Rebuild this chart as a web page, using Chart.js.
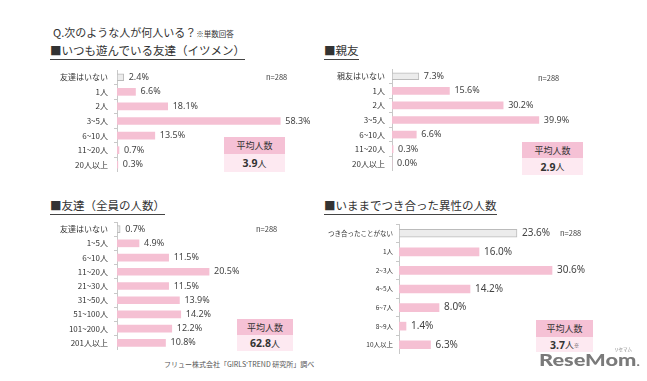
<!DOCTYPE html>
<html><head><meta charset="utf-8">
<script src="https://cdn.jsdelivr.net/npm/chart.js@4/dist/chart.umd.min.js"></script>
<style>
body{margin:0;background:#fff;}
#wrap{position:relative;width:647px;height:381px;overflow:hidden;font-family:"Noto Sans CJK JP","Noto Sans",sans-serif;color:#333;}
.t{position:absolute;white-space:nowrap;line-height:1;}
canvas{position:absolute;}
.ttl{font-size:11.5px;border-bottom:1px solid #444;padding-bottom:2px;}
.n{font-size:7.5px;color:#444;}
.avg{position:absolute;text-align:center;}
.avg .h{background:#f5c1d5;font-size:9px;display:flex;align-items:center;justify-content:center;}
.avg .v{background:#fde9f1;font-size:9px;display:flex;align-items:center;justify-content:center;}
.avg .v b{font-size:10.5px;font-family:"Noto Sans","Noto Sans CJK JP",sans-serif;}
</style></head><body>
<div id="wrap">
<div class="t" style="left:53px;top:27px;font-size:11px;">Q.次のような人が何人いる？<span style="font-size:7.5px">※単数回答</span></div>
<div class="t ttl" style="left:50px;top:45px;">■いつも遊んでいる友達（イツメン）</div>
<div class="t ttl" style="left:324px;top:45px;">■親友</div>
<div class="t ttl" style="left:50px;top:200px;">■友達（全員の人数）</div>
<div class="t ttl" style="left:324px;top:200px;">■いままでつき合った異性の人数</div>

<canvas id="c1" width="280" height="102" style="left:40px;top:70px"></canvas>
<canvas id="c2" width="300" height="102" style="left:320px;top:69px"></canvas>
<canvas id="c3" width="240" height="128" style="left:40px;top:222px"></canvas>
<canvas id="c4" width="300" height="130" style="left:320px;top:224px"></canvas>

<div class="t n" style="left:266px;top:73px;">n=288</div>
<div class="t n" style="left:538px;top:74px;">n=288</div>
<div class="t n" style="left:256px;top:225px;">n=288</div>
<div class="t n" style="left:560px;top:229px;">n=288</div>

<div class="avg" style="left:224px;top:137px;width:61px;"><div class="h" style="height:17px">平均人数</div><div class="v" style="height:18px"><b>3.9</b>人</div></div>
<div class="avg" style="left:522px;top:142px;width:61px;"><div class="h" style="height:16px">平均人数</div><div class="v" style="height:17px"><b>2.9</b>人</div></div>
<div class="avg" style="left:237px;top:319px;width:56px;"><div class="h" style="height:16px">平均人数</div><div class="v" style="height:16px"><b>62.8</b>人</div></div>
<div class="avg" style="left:536px;top:320px;width:57px;"><div class="h" style="height:17px">平均人数</div><div class="v" style="height:15px"><b>3.7</b>人<span style="font-size:5px;vertical-align:top">※</span></div></div>

<div class="t" style="left:164px;top:361px;font-size:7px;color:#555;">フリュー株式会社「GIRLS'TREND 研究所」調べ</div>
<div class="t" style="left:539px;top:351px;font-size:17px;font-weight:900;color:#7a7a7a;font-family:Lato,'Noto Sans',sans-serif;transform:scaleX(1.28);transform-origin:left top;">ReseMom<span style="font-size:11px">.</span></div>
<div class="t" style="left:614px;top:347px;font-size:4.5px;color:#888;">リセマム</div>
</div>
<script>
// ---- data ----
const cats1 = ["友達はいない","1人","2人","3~5人","6~10人","11~20人","20人以上"];
const vals1 = [2.4,6.6,18.1,58.3,13.5,0.7,0.3];
const cats2 = ["親友はいない","1人","2人","3~5人","6~10人","11~20人","20人以上"];
const vals2 = [7.3,15.6,30.2,39.9,6.6,0.3,0.0];
const cats3 = ["友達はいない","1~5人","6~10人","11~20人","21~30人","31~50人","51~100人","101~200人","201人以上"];
const vals3 = [0.7,4.9,11.5,20.5,11.5,13.9,14.2,12.2,10.8];
const cats4 = ["つき合ったことがない","1人","2~3人","4~5人","6~7人","8~9人","10人以上"];
const vals4 = [23.6,16.0,30.6,14.2,8.0,1.4,6.3];

const PINK = '#f5c0d3', GRAY = '#ececec';

const valueLabels = {
  id:'valueLabels',
  afterDatasetsDraw(chart, args, opts){
    const ctx = chart.ctx;
    const meta = chart.getDatasetMeta(0);
    ctx.save();
    ctx.font = opts.size + 'px "Noto Sans","DejaVu Sans",sans-serif';
    ctx.fillStyle = '#444';
    ctx.textBaseline = 'middle';
    ctx.textAlign = 'left';
    meta.data.forEach((el,i)=>{
      const v = chart.data.datasets[0].data[i];
      ctx.fillText(v.toFixed(1)+'%', el.x + opts.gap, el.y);
    });
    ctx.restore();
  }
};

function make(id, cats, vals, yWidth, max, thick, tickSize, valSize, pad){
  new Chart(document.getElementById(id), {
    type:'bar',
    data:{labels:cats, datasets:[{
      data:vals,
      backgroundColor: vals.map((v,i)=> i===0 ? GRAY : PINK),
      borderColor: vals.map((v,i)=> i===0 ? '#bbbbbb' : PINK),
      borderWidth: vals.map((v,i)=> i===0 ? 1 : 0),
      barThickness: thick,
      borderSkipped:false
    }]},
    options:{
      indexAxis:'y', responsive:false, animation:false, devicePixelRatio:1,
      layout:{padding:0},
      plugins:{legend:{display:false}, tooltip:{enabled:false}, valueLabels:{size:valSize, gap:5}},
      scales:{
        x:{display:false, min:0, max:max},
        y:{
          afterFit(s){ s.width = yWidth; s.paddingTop = 0; s.paddingBottom = 0; },
          grid:{display:true, drawOnChartArea:false, tickLength:3, color:'#c8c8c8'},
          border:{display:true, color:'#c8c8c8'},
          ticks:{font:{size:tickSize, family:'"Noto Sans CJK JP","Noto Sans",sans-serif'}, color:'#333', padding:pad, autoSkip:false}
        }
      }
    },
    plugins:[valueLabels]
  });
}
make('c1', cats1, vals1, 77, 203/2.8, 7, 8, 9, 6);
make('c2', cats2, vals2, 72, 228/3.68, 7, 8, 9, 4);
make('c3', cats3, vals3, 77, 163/4.49, 7, 8, 9, 6);
make('c4', cats4, vals4, 79, 221/5.0, 8, 6.5, 10, 3);
</script>
</body></html>
